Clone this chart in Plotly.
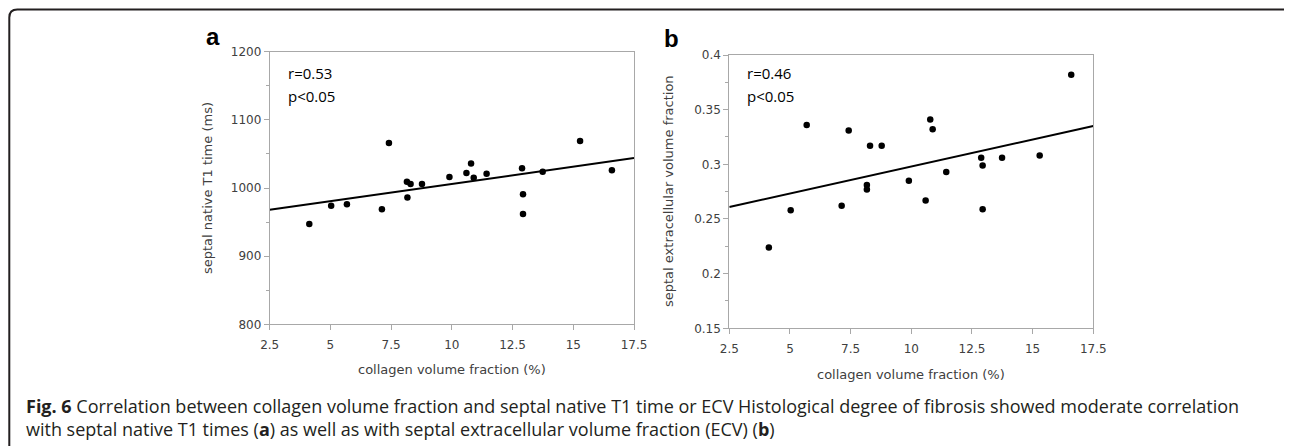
"""Fig. 6 - collagen volume fraction vs septal native T1 / ECV (two scatter panels)."""
import plotly.graph_objects as go

# the page body keeps its default 8px margin, so the figure starts 8px in;
# every position below is given in window pixels
PAGE_PAD = 8
W, H = 1292 - PAGE_PAD, 446 - PAGE_PAD

# panel a: collagen volume fraction (%) vs septal native T1 time (ms)
cvf_a = [4.13, 5.03, 5.68, 7.12, 7.41, 8.15, 8.30, 8.17, 8.77, 9.90,
         10.60, 10.79, 10.90, 11.43, 12.89, 12.93, 12.93, 13.74, 15.28, 16.59]
t1_a = [947, 974, 976, 969, 1066, 1009, 1006, 986, 1006, 1016,
        1022, 1036, 1015, 1021, 1029, 991, 962, 1024, 1069, 1026]
fit_x_a = [2.5, 17.5]
fit_y_a = [968, 1044]

# panel b: collagen volume fraction (%) vs septal ECV
cvf_b = [4.13, 5.03, 5.69, 7.13, 7.42, 8.30, 8.17, 8.17, 8.78, 9.90,
         10.59, 10.78, 10.88, 11.44, 12.88, 12.94, 12.94, 13.74, 15.29, 16.59]
ecv_b = [0.224, 0.258, 0.336, 0.262, 0.331, 0.317, 0.281, 0.277, 0.317, 0.285,
         0.267, 0.341, 0.332, 0.293, 0.306, 0.299, 0.259, 0.306, 0.308, 0.382]
fit_x_b = [2.5, 17.5]
fit_y_b = [0.261, 0.335]

TICK_FONT = dict(family="DejaVu Sans", size=12, color="#404040")
TITLE_FONT = dict(family="DejaVu Sans", size=13, color="#404040")
AXIS_GREY = "#a8a8a8"


def px(x):
    return (x - PAGE_PAD) / W


def py(y):
    return 1 - (y - PAGE_PAD) / H


fig = go.Figure()
fig.add_trace(go.Scatter(x=cvf_a, y=t1_a, mode="markers",
                         marker=dict(size=6.5, color="black"), xaxis="x", yaxis="y"))
fig.add_trace(go.Scatter(x=fit_x_a, y=fit_y_a, mode="lines",
                         line=dict(color="black", width=2), xaxis="x", yaxis="y"))
fig.add_trace(go.Scatter(x=cvf_b, y=ecv_b, mode="markers",
                         marker=dict(size=6.5, color="black"), xaxis="x2", yaxis="y2"))
fig.add_trace(go.Scatter(x=fit_x_b, y=fit_y_b, mode="lines",
                         line=dict(color="black", width=2), xaxis="x2", yaxis="y2"))

x_common = dict(range=[2.5, 17.5], tick0=2.5, dtick=2.5, ticks="outside", ticklen=5,
                tickcolor=AXIS_GREY, showline=True, linecolor=AXIS_GREY, linewidth=1,
                mirror=True, showgrid=False, zeroline=False, tickfont=TICK_FONT,
                ticklabelstandoff=4, automargin=False)
y_common = dict(ticks="outside", ticklen=5, tickcolor=AXIS_GREY, showline=True,
                linecolor=AXIS_GREY, linewidth=1, mirror=True, showgrid=False,
                zeroline=False, tickfont=TICK_FONT, automargin=False)

fig.update_layout(
    template="none",
    width=W, height=H, autosize=False,
    margin=dict(l=0, r=0, t=0, b=0, pad=0),
    paper_bgcolor="white", plot_bgcolor="white",
    showlegend=False,
    xaxis=dict(domain=[px(269.7), px(634)], anchor="y", **x_common),
    yaxis=dict(domain=[py(324.3), py(51.7)], anchor="x", range=[800, 1200], dtick=100,
               minor=dict(dtick=50, ticks="outside", ticklen=3, tickcolor=AXIS_GREY),
               **y_common),
    xaxis2=dict(domain=[px(729.3), px(1093.3)], anchor="y2", **x_common),
    yaxis2=dict(domain=[py(328.3), py(55)], anchor="x2", range=[0.15, 0.4], dtick=0.05,
                minor=dict(dtick=0.025, ticks="outside", ticklen=3, tickcolor=AXIS_GREY),
                **y_common),
)

# figure frame with rounded top corners
r = 8
frame = (f"M {px(9.3)},{py(446)} L {px(9.3)},{py(9.5 + r)} "
         f"Q {px(9.3)},{py(9.5)} {px(9.3 + r)},{py(9.5)} "
         f"L {px(1292 - r)},{py(9.5)} Q {px(1292)},{py(9.5)} {px(1292)},{py(9.5 + r)} "
         f"L {px(1292)},{py(446)}")
fig.add_shape(type="path", xref="paper", yref="paper", path=frame,
              line=dict(color="#231f20", width=2))

notes = []


def note(x, y, text, font, xanchor="center", **kw):
    notes.append(dict(x=px(x), y=py(y), xref="paper", yref="paper", text=text,
                      showarrow=False, font=font, xanchor=xanchor, yanchor="middle", **kw))


LETTER = dict(family="Liberation Sans", size=24, color="black")
STAT = dict(family="Open Sans", size=15, color="black")
CAP = dict(family="Open Sans", size=18, color="#231f20")

note(213, 37, "<b>a</b>", LETTER)
note(672, 38, "<b>b</b>", LETTER)
note(286, 73, "r=0.53", STAT, xanchor="left")
note(286, 96, "p&lt;0.05", STAT, xanchor="left")
note(745, 73, "r=0.46", STAT, xanchor="left")
note(745, 96, "p&lt;0.05", STAT, xanchor="left")
note(207, 188, "septal native T1 time (ms)", TITLE_FONT, textangle=-90)
note(668, 191, "septal extracellular volume fraction", TITLE_FONT, textangle=-90)
note(452, 369, "collagen volume fraction (%)", TITLE_FONT)
note(911, 374, "collagen volume fraction (%)", TITLE_FONT)
note(24, 406, "<b>Fig. 6</b> Correlation between collagen volume fraction and septal native T1 time "
     "or ECV Histological degree of fibrosis showed moderate correlation", CAP, xanchor="left")
note(24, 429, "with septal native T1 times (<b>a</b>) as well as with septal extracellular "
     "volume fraction (ECV) (<b>b</b>)", CAP, xanchor="left")
fig.update_layout(annotations=notes)

fig.write_html("out.html")
